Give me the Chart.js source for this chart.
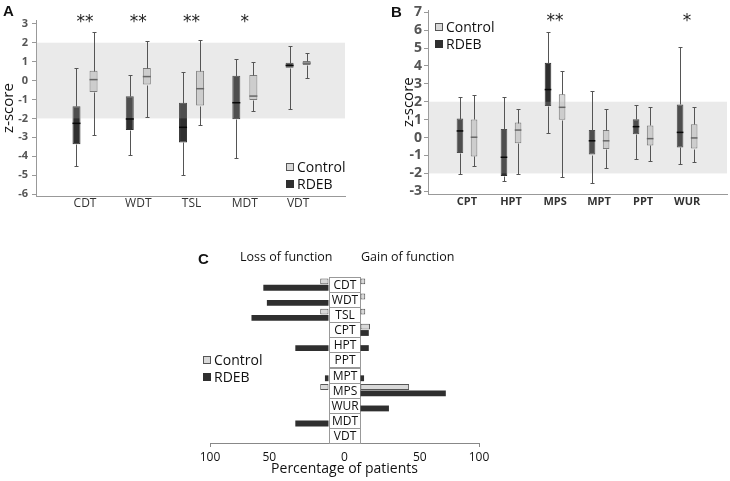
<!DOCTYPE html>
<html>
<head>
<meta charset="utf-8">
<script src="https://cdn.jsdelivr.net/npm/chart.js@4.4.1/dist/chart.umd.min.js"></script>
<style>
  body { margin: 0; background: #fff; width: 730px; height: 481px; position: relative; overflow: hidden; font-family: 'Open Sans', sans-serif; }
  canvas { position: absolute; }
  .t { position: absolute; white-space: nowrap; color: #111; line-height: 1; }
  .letter { font-family: 'Liberation Sans', Arial, sans-serif; font-weight: bold; font-size: 15px; }
</style>
</head>
<body>
<canvas id="chartA" width="365" height="215" style="left:0;top:0"></canvas>
<canvas id="chartB" width="365" height="215" style="left:365px;top:0"></canvas>
<canvas id="chartC" width="310" height="241" style="left:190px;top:240px"></canvas>
<div class="t letter" style="left:3px;top:3px">A</div>
<div class="t letter" style="left:391px;top:4px">B</div>
<div class="t letter" style="left:198px;top:251px">C</div>
<div class="t" style="left:240px;top:251px;font-size:12.5px">Loss of function</div>
<div class="t" style="left:361px;top:251px;font-size:12.5px">Gain of function</div>
<script>
// box stats: [min, q1, median, q3, max]
const catsA = ['CDT', 'WDT', 'TSL', 'MDT', 'VDT'];
const rdebA = [
  [-4.52, -3.36, -2.26, -1.36, 0.66],
  [-3.91, -2.61, -2.03, -0.83, 0.31],
  [-5.0, -3.27, -2.47, -1.17, 0.47],
  [-4.09, -2.05, -1.17, 0.26, 1.13],
  [-1.51, 0.68, 0.8, 0.94, 1.83],
];
const controlA = [
  [-2.87, -0.61, 0.05, 0.52, 2.57],
  [-1.91, -0.21, 0.21, 0.66, 2.09],
  [-2.37, -1.32, -0.43, 0.52, 2.14],
  [-1.62, -1.03, -0.82, 0.3, 0.99],
  [0.16, 0.82, 0.92, 1.03, 1.44],
];
const sigA = ['**', '**', '**', '*', ''];
const yTicksA = [3, 2, 1, 0, -1, -2, -3, -4, -5, -6];

const catsB = ['CPT', 'HPT', 'MPS', 'MPT', 'PPT', 'WUR'];
const rdebB = [
  [-2.06, -0.86, 0.37, 1.06, 2.26],
  [-2.42, -2.15, -1.1, 0.48, 2.26],
  [0.24, 1.76, 2.68, 4.18, 5.87],
  [-2.53, -0.95, -0.18, 0.42, 2.62],
  [-1.17, 0.18, 0.61, 1.03, 1.8],
  [-1.5, -0.55, 0.29, 1.85, 5.08],
];
const controlB = [
  [-1.56, -1.05, 0.02, 1.01, 2.39],
  [-2.06, -0.31, 0.42, 0.84, 1.61],
  [-2.18, 0.99, 1.69, 2.42, 3.69],
  [-1.69, -0.64, -0.18, 0.42, 1.58],
  [-1.28, -0.44, -0.06, 0.68, 1.72],
  [-1.39, -0.61, -0.02, 0.75, 1.72],
];
const sigB = ['', '', '**', '', '', '*'];
const yTicksB = [7, 6, 5, 4, 3, 2, 1, 0, -1, -2, -3];

// panel C, percentage of patients
const catsC = ['CDT', 'WDT', 'TSL', 'CPT', 'HPT', 'PPT', 'MPT', 'MPS', 'WUR', 'MDT', 'VDT'];
const lossControlC = [7, 0, 7, 0, 0, 0, 0, 7, 0, 0, 0];
const lossRdebC = [55, 52, 65, 0, 28, 0, 3, 0, 0, 28, 0];
const gainControlC = [4, 4, 4, 8, 0, 0, 0, 41, 0, 0, 0];
const gainRdebC = [0, 0, 0, 7, 7, 0, 3, 72, 24, 0, 0];
const tickLabelsC = [100, 50, 0, 50, 100];

const DARK = '#2f2f2f';
const LIGHT = '#d9d9d9';
const FONT = "'Open Sans', sans-serif";

function drawLegend(ctx, x, y, gap) {
  const items = [
    { text: 'Control', fill: LIGHT, stroke: '#555' },
    { text: 'RDEB', fill: DARK, stroke: DARK },
  ];
  ctx.font = '14px ' + FONT;
  ctx.textBaseline = 'middle';
  ctx.textAlign = 'left';
  items.forEach((it, i) => {
    const yy = y + i * gap;
    ctx.fillStyle = it.fill;
    ctx.fillRect(x, yy - 4, 8, 8);
    ctx.strokeStyle = it.stroke;
    ctx.lineWidth = 1;
    ctx.strokeRect(x + 0.5, yy - 3.5, 7, 7);
    ctx.fillStyle = '#111';
    ctx.fillText(it.text, x + 11, yy + 1);
  });
}

// whiskers, medians, reference band, stars and legend
const boxPlugin = {
  id: 'boxPlugin',
  afterDatasetsDraw(chart, args, opts) {
    const { ctx, chartArea: a, scales: { x, y } } = chart;
    ctx.save();
    const t = y.getPixelForValue(2), b = y.getPixelForValue(-2);
    ctx.fillStyle = 'rgba(173,173,173,0.25)';
    ctx.fillRect(a.left, t, a.right - a.left, b - t);
    const px = (v) => Math.round(y.getPixelForValue(v)) + 0.5;
    chart.data.datasets.forEach((ds, di) => {
      chart.getDatasetMeta(di).data.forEach((el, i) => {
        const s = ds.stats[i];
        const xx = Math.round(el.x) + 0.5;
        const hw = el.width / 2;
        ctx.strokeStyle = '#555';
        ctx.lineWidth = 1;
        ctx.beginPath();
        ctx.moveTo(xx, px(s[4])); ctx.lineTo(xx, px(s[3]));
        ctx.moveTo(xx, px(s[1])); ctx.lineTo(xx, px(s[0]));
        ctx.moveTo(xx - 2, px(s[4])); ctx.lineTo(xx + 2, px(s[4]));
        ctx.moveTo(xx - 2, px(s[0])); ctx.lineTo(xx + 2, px(s[0]));
        ctx.stroke();
        ctx.strokeStyle = ds.medianColor;
        ctx.lineWidth = 1.5;
        ctx.beginPath();
        ctx.moveTo(el.x - hw, y.getPixelForValue(s[2]));
        ctx.lineTo(el.x + hw, y.getPixelForValue(s[2]));
        ctx.stroke();
      });
    });
    ctx.fillStyle = '#222';
    ctx.font = '17px DejaVu Sans';
    ctx.textAlign = 'center';
    ctx.textBaseline = 'top';
    opts.sig.forEach((s, i) => {
      if (s) ctx.fillText(s, x.getPixelForValue(i), opts.starY);
    });
    drawLegend(ctx, opts.legendX, opts.legendY, 17);
    ctx.restore();
  },
};

function boxChart(id, cats, rdeb, control, sig, yTicks, o) {
  const toBox = (arr) => arr.map((s, i) => ({ x: i, y: [s[1], s[3]] }));
  return new Chart(document.getElementById(id), {
    type: 'bar',
    data: {
      datasets: [
        { label: 'RDEB', data: toBox(rdeb), stats: rdeb, backgroundColor: DARK, borderColor: DARK, borderWidth: 1, borderSkipped: false, medianColor: '#080808' },
        { label: 'Control', data: toBox(control), stats: control, backgroundColor: LIGHT, borderColor: '#6a6a6a', borderWidth: 1, borderSkipped: false, medianColor: '#666' },
      ],
    },
    options: {
      responsive: false,
      animation: false,
      categoryPercentage: 0.64,
      barPercentage: 0.47,
      layout: { padding: o.padding },
      plugins: {
        legend: { display: false },
        tooltip: { enabled: false },
        boxPlugin: { sig: sig, starY: o.starY, legendX: o.legendX, legendY: o.legendY },
      },
      scales: {
        x: {
          type: 'linear',
          min: o.xMin,
          max: o.xMax,
          afterBuildTicks: (s) => { s.ticks = cats.map((c, i) => ({ value: i })); },
          afterFit: (s) => { s.height = o.xHeight; },
          ticks: { callback: (v) => cats[v], autoSkip: false, maxRotation: 0, padding: o.xPad, color: '#333', font: o.xFont },
          grid: { display: false, drawTicks: false },
          border: { color: '#999' },
        },
        y: {
          min: o.yMin,
          max: o.yMax,
          afterBuildTicks: (s) => { s.ticks = yTicks.map((v) => ({ value: v })); },
          afterFit: (s) => { s.width = o.yWidth; },
          ticks: { autoSkip: false, padding: o.yPad, color: '#555', font: o.yFont },
          grid: { drawOnChartArea: false, tickLength: 4, color: '#999' },
          border: { color: '#999' },
          title: { display: true, text: 'z-score', color: '#111', font: { size: 15, family: FONT }, padding: { top: o.titlePad, bottom: 0 } },
        },
      },
    },
    plugins: [boxPlugin],
  });
}

boxChart('chartA', catsA, rdebA, controlA, sigA, yTicksA, {
  padding: { top: 20, right: 20, left: 0, bottom: 0 },
  xMin: -0.34, xMax: 4.3, xHeight: 19, xPad: 0,
  yMin: -6.1, yMax: 3.2, yWidth: 36, yPad: 4, titlePad: 0,
  xFont: { size: 12, family: FONT },
  yFont: { size: 11, weight: 'bold', family: FONT },
  starY: 14, legendX: 286, legendY: 167,
});

boxChart('chartB', catsB, rdebB, controlB, sigB, yTicksB, {
  padding: { top: 8, right: 3, left: 0, bottom: 0 },
  xMin: -0.32, xMax: 5.34, xHeight: 21, xPad: 1,
  yMin: -3.15, yMax: 7.1, yWidth: 63, yPad: 2, titlePad: 35,
  xFont: { size: 11, weight: 'bold', family: FONT },
  yFont: { size: 14, weight: 'bold', family: FONT },
  starY: 13, legendX: 70, legendY: 27,
});

// panel C: label column in the middle, half width G in percentage units
const G = 13.5;
const tickPosC = tickLabelsC.map((t, i) => (t === 0 ? 0 : (i < 2 ? -1 : 1) * (t + G)));
const loss = (arr) => arr.map((v) => (v ? [-(G + v), -G] : null));
const gain = (arr) => arr.map((v) => (v ? [G, G + v] : null));

const columnPlugin = {
  id: 'columnPlugin',
  beforeDatasetsDraw(chart) {
    const { ctx, scales: { x, y } } = chart;
    const h = y.getPixelForValue(1) - y.getPixelForValue(0);
    const l = Math.round(x.getPixelForValue(-G)) + 0.5;
    const r = Math.round(x.getPixelForValue(G)) + 0.5;
    ctx.save();
    ctx.font = '12px ' + FONT;
    ctx.textAlign = 'center';
    ctx.textBaseline = 'middle';
    catsC.forEach((c, i) => {
      const yc = y.getPixelForValue(i);
      const top = Math.round(yc - h / 2) + 0.5;
      ctx.fillStyle = '#fff';
      ctx.fillRect(l, top, r - l, h);
      ctx.strokeStyle = '#999';
      ctx.lineWidth = 1;
      ctx.strokeRect(l, top, r - l, Math.round(h));
      ctx.fillStyle = '#111';
      ctx.fillText(c, (l + r) / 2, yc + 1);
    });
    ctx.restore();
  },
  afterDatasetsDraw(chart) {
    drawLegend(chart.ctx, 13, 120, 17);
  },
};

new Chart(document.getElementById('chartC'), {
  type: 'bar',
  data: {
    labels: catsC,
    datasets: [
      { label: 'Control', stack: 'ctl', data: loss(lossControlC), backgroundColor: LIGHT, borderColor: '#555', borderWidth: 1, borderSkipped: false },
      { label: 'RDEB', stack: 'rdeb', data: loss(lossRdebC), backgroundColor: DARK, borderColor: DARK, borderWidth: 0 },
      { label: 'Control', stack: 'ctl', data: gain(gainControlC), backgroundColor: LIGHT, borderColor: '#555', borderWidth: 1, borderSkipped: false },
      { label: 'RDEB', stack: 'rdeb', data: gain(gainRdebC), backgroundColor: DARK, borderColor: DARK, borderWidth: 0 },
    ],
  },
  options: {
    indexAxis: 'y',
    responsive: false,
    animation: false,
    categoryPercentage: 0.84,
    barPercentage: 0.92,
    layout: { padding: { top: 37, left: 20, right: 21, bottom: 0 } },
    plugins: { legend: { display: false }, tooltip: { enabled: false } },
    scales: {
      y: { display: false },
      x: {
        stacked: false,
        min: tickPosC[0],
        max: tickPosC[tickPosC.length - 1],
        afterBuildTicks: (s) => { s.ticks = tickPosC.map((v) => ({ value: v })); },
        afterFit: (s) => { s.height = 38; },
        ticks: { callback: (v, i) => String(tickLabelsC[i]), autoSkip: false, maxRotation: 0, padding: 3, color: '#111', font: { size: 12, family: FONT } },
        grid: {
          drawOnChartArea: false,
          tickLength: 4,
          color: (c) => (c.tick && Math.abs(c.tick.value) > 100 ? '#888' : 'rgba(0,0,0,0)'),
        },
        border: { color: '#888' },
        title: { display: true, text: 'Percentage of patients', color: '#111', font: { size: 14, family: FONT }, padding: { top: 0, bottom: 4 } },
      },
    },
  },
  plugins: [columnPlugin],
});
</script>
</body>
</html>
